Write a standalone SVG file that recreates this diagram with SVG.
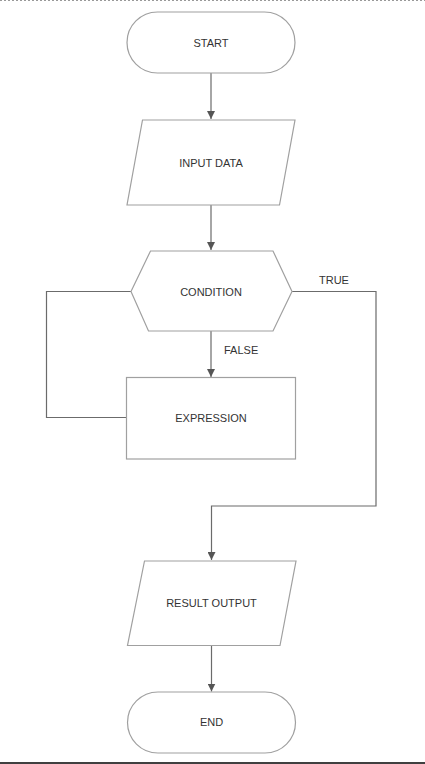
<svg xmlns="http://www.w3.org/2000/svg" width="425" height="764" viewBox="0 0 425 764">
<style>
.n{fill:#fff;stroke:#a0a0a0;stroke-width:1.2}
.c{fill:none;stroke:#6b6b6b;stroke-width:1.2}
.t{font-family:"Liberation Sans",Arial,sans-serif;font-size:11px;fill:#333;text-anchor:middle;dominant-baseline:central}
.l{font-family:"Liberation Sans",Arial,sans-serif;font-size:11px;fill:#333}
</style>
<defs>
<marker id="ah" viewBox="0 0 10 10" refX="10" refY="5" markerWidth="8" markerHeight="8" markerUnits="userSpaceOnUse" orient="auto">
<path d="M0,0 L10,5 L0,10 Z" fill="#555"/>
</marker>
</defs>
<rect width="425" height="764" fill="#fff"/>
<line x1="0" y1="0.5" x2="425" y2="0.5" stroke="#999" stroke-width="1" stroke-dasharray="2,2"/>
<line x1="0" y1="763" x2="425" y2="763" stroke="#000" stroke-width="1.5"/>
<g id="connectors">
<path class="c" d="M211,73 V119" marker-end="url(#ah)"/>
<path class="c" d="M211,205 V250" marker-end="url(#ah)"/>
<path class="c" d="M211,331 V377" marker-end="url(#ah)"/>
<path class="c" d="M126.5,417.5 H46.5 V291.5 H131"/>
<path class="c" d="M292,291.5 H376 V506 H211.5 V560" marker-end="url(#ah)"/>
<path class="c" d="M211.5,645 V691.5" marker-end="url(#ah)"/>
<text class="l" x="319" y="284">TRUE</text>
<text class="l" x="224" y="354">FALSE</text>
</g>
<g id="start">
<rect class="n" x="127" y="12" width="168" height="61" rx="30.5"/>
<text class="t" x="211" y="42.5">START</text>
</g>
<g id="input">
<polygon class="n" points="142.5,120 295,120 279.5,205 127,205"/>
<text class="t" x="211" y="163">INPUT DATA</text>
</g>
<g id="condition">
<polygon class="n" points="150.5,251 273,251 292,291.5 273,331 148.5,331 131,291.5"/>
<text class="t" x="211" y="292">CONDITION</text>
</g>
<g id="expression">
<rect class="n" x="126.5" y="377.5" width="169" height="81.5"/>
<text class="t" x="211" y="418">EXPRESSION</text>
</g>
<g id="output">
<polygon class="n" points="144.5,561 296,561 280,645.5 127.5,645.5"/>
<text class="t" x="211.5" y="603">RESULT OUTPUT</text>
</g>
<g id="end">
<rect class="n" x="127.5" y="692" width="168" height="61" rx="30.5"/>
<text class="t" x="211.5" y="722">END</text>
</g>
</svg>
